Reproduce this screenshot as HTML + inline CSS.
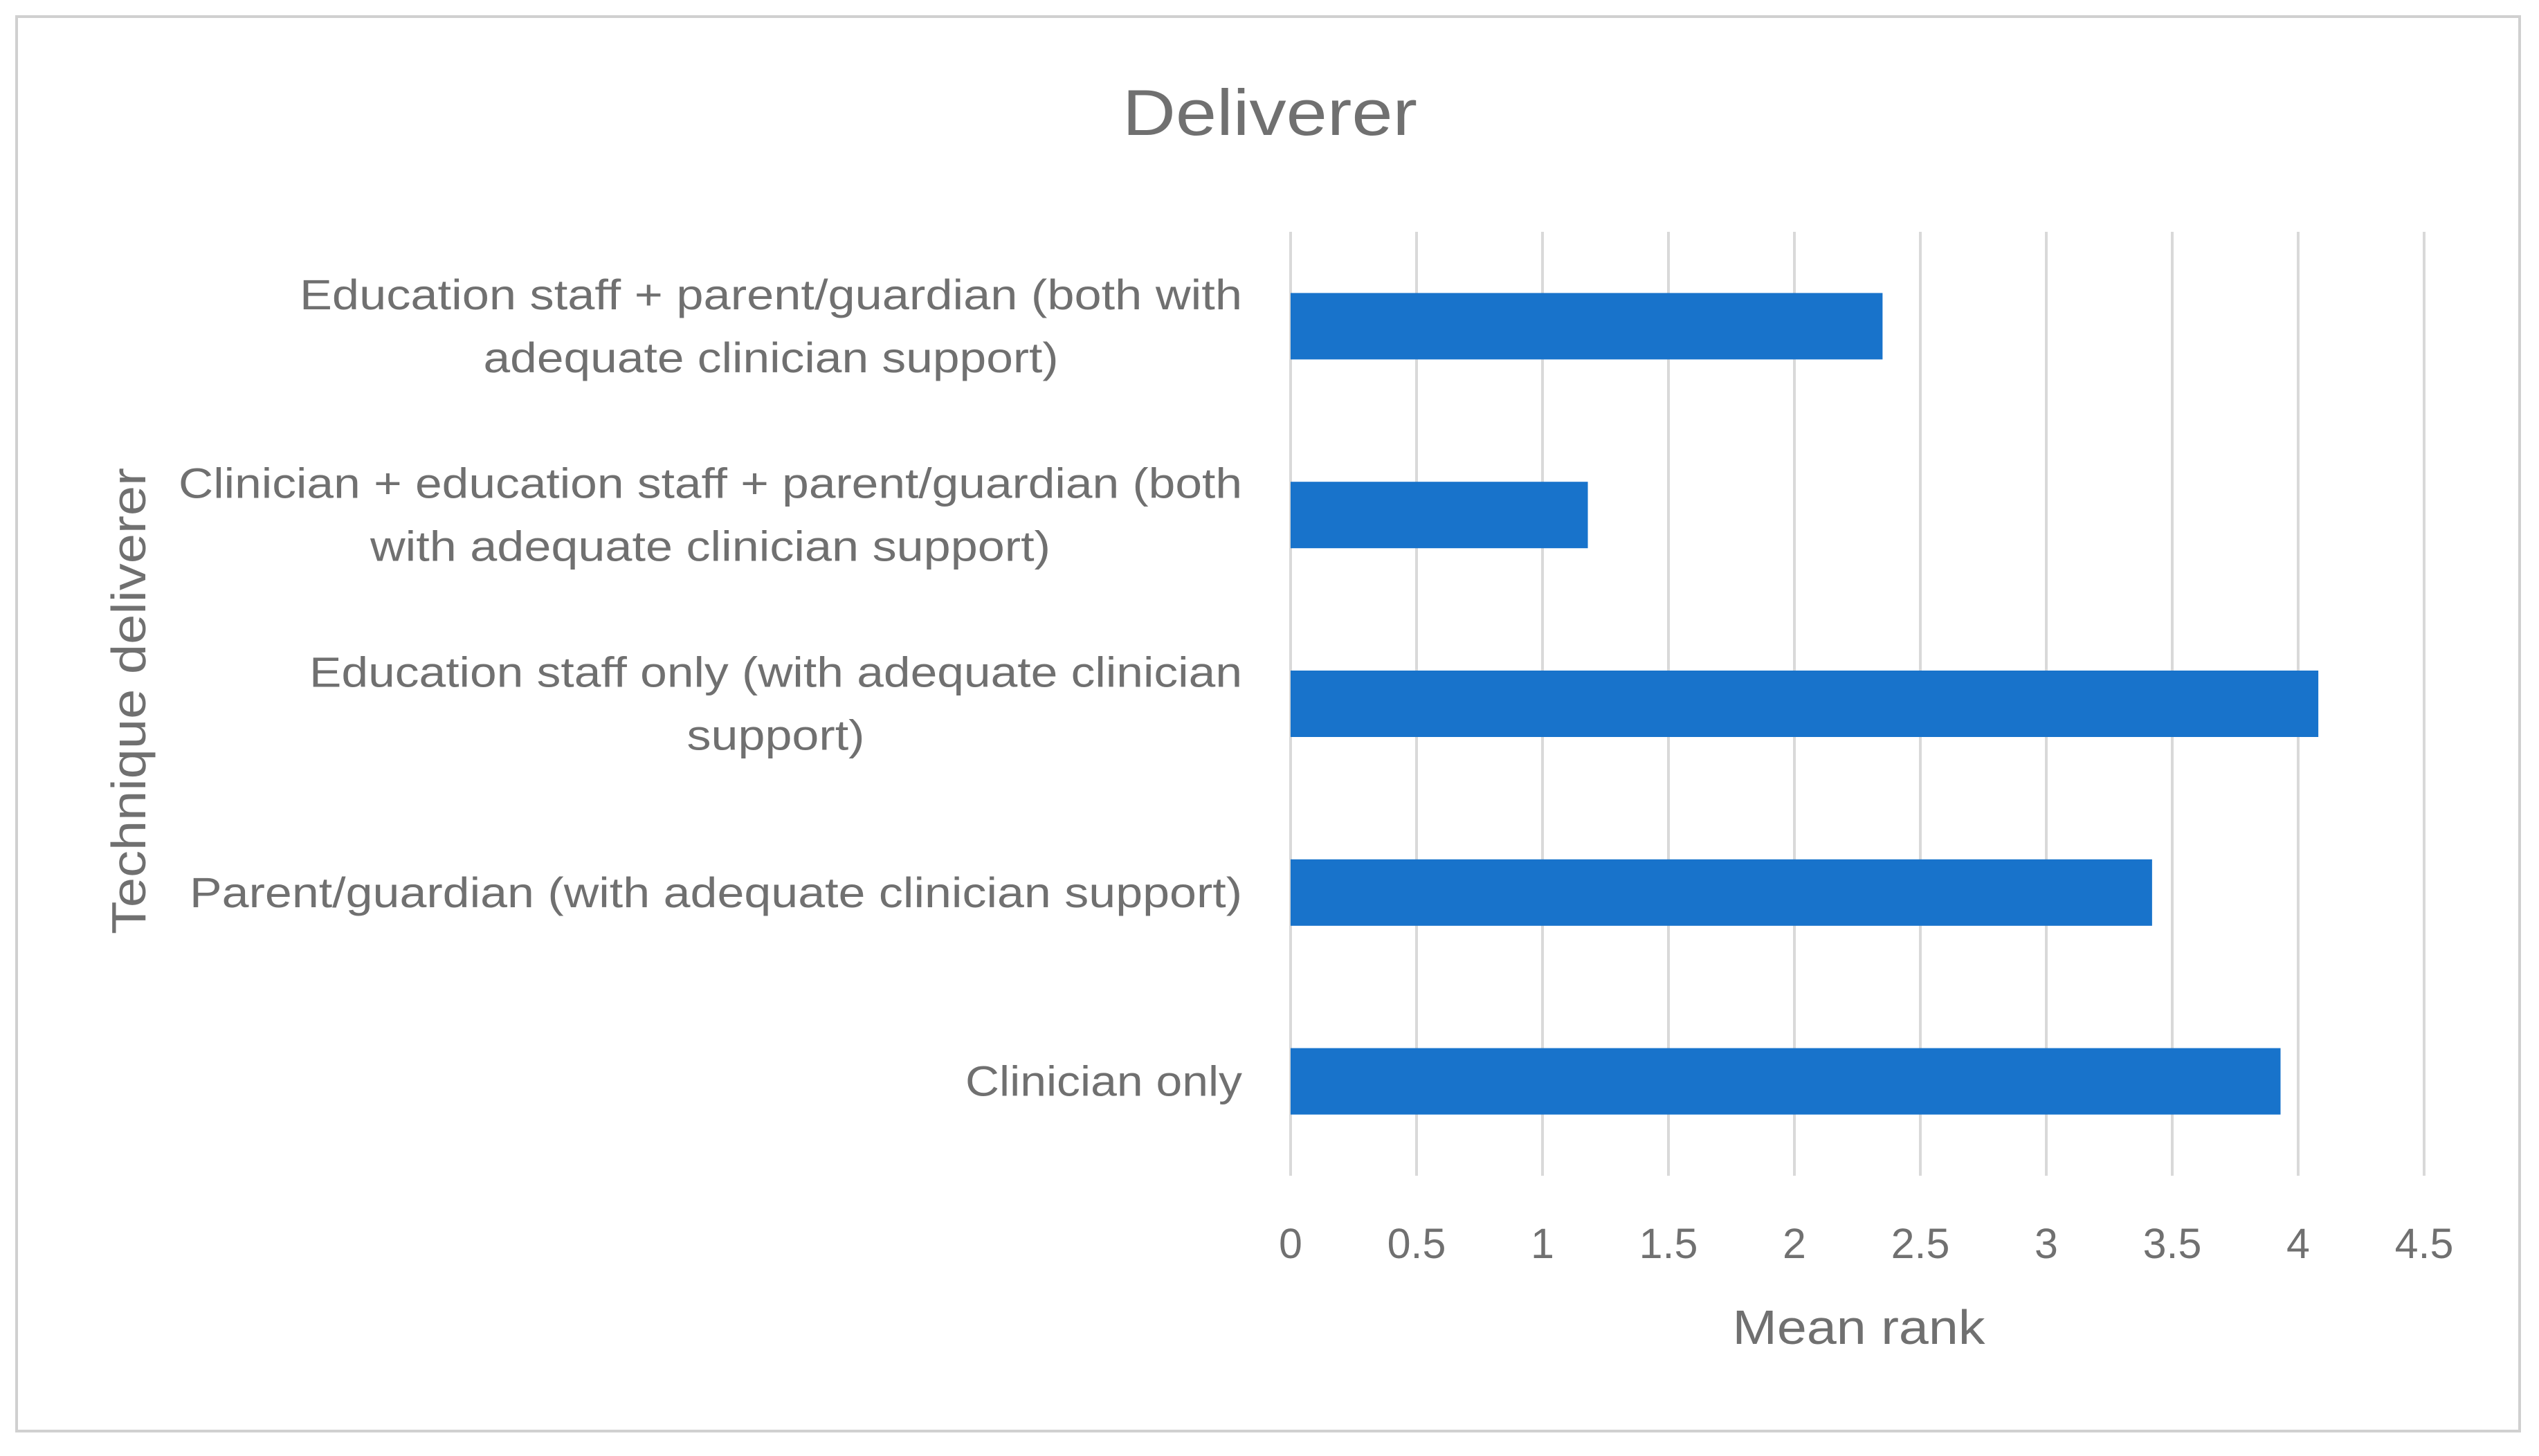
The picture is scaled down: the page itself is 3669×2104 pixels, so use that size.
<!DOCTYPE html>
<html><head><meta charset="utf-8"><style>
html,body{margin:0;padding:0;background:#fff;}
svg{display:block;font-family:"Liberation Sans",sans-serif;}
</style></head><body>
<svg id="chart" width="3669" height="2104" viewBox="0 0 3669 2104">
<rect x="24" y="24" width="3617" height="2044" fill="#fff" stroke="#d0d0d0" stroke-width="4"/>
<text x="1835" y="195" font-size="94" fill="#707070" text-anchor="middle" textLength="426" lengthAdjust="spacingAndGlyphs">Deliverer</text>
<text x="2686" y="1942" font-size="70" fill="#707070" text-anchor="middle" textLength="365" lengthAdjust="spacingAndGlyphs">Mean rank</text>
<text transform="translate(210,1013) rotate(-90)" font-size="70" fill="#707070" text-anchor="middle" textLength="674" lengthAdjust="spacingAndGlyphs">Technique deliverer</text>
<g id="grid"></g><g id="bars"></g><g id="xticks"></g><g id="cats"></g>
</svg>
<script>
const categories = [
  ["Education staff + parent/guardian (both with","adequate clinician support)"],
  ["Clinician + education staff + parent/guardian (both","with adequate clinician support)"],
  ["Education staff only (with adequate clinician","support)"],
  ["Parent/guardian (with adequate clinician support)"],
  ["Clinician only"]
];
const values = [2.35, 1.18, 4.08, 3.42, 3.93];
const tickValues = [0,0.5,1,1.5,2,2.5,3,3.5,4,4.5];
const tickLabels = ["0","0.5","1","1.5","2","2.5","3","3.5","4","4.5"];
// rendered widths of label lines (layout only)
const labelWidths = [[1362,831],[1537,983],[1348,257],[1521],[400]];

const NS="http://www.w3.org/2000/svg";
const X0=1865, X1=3503, XMAX=4.5, PT=335, PB=1699;
const xs=v=>X0+(v/XMAX)*(X1-X0);
const band=(PB-PT)/categories.length;
const yc=i=>PT+band*(i+0.5);
function mk(tag,attrs,parent){const e=document.createElementNS(NS,tag);for(const k in attrs)e.setAttribute(k,attrs[k]);parent.appendChild(e);return e;}
const grid=document.getElementById('grid'),bars=document.getElementById('bars'),xt=document.getElementById('xticks'),cats=document.getElementById('cats');
tickValues.forEach((t,i)=>{
  const l=mk('line',{x1:xs(t),x2:xs(t),y1:PT,y2:PB,stroke:'#d9d9d9','stroke-width':4},grid);
  
  
  const tx=mk('text',{x:xs(t),y:1818,'font-size':61,fill:'#707070','text-anchor':'middle'},xt);
  tx.textContent=tickLabels[i];
  
  
});
values.forEach((v,i)=>{
  const r=mk('rect',{x:X0,y:yc(i)-48,width:xs(v)-X0,height:96,fill:'#1873cb'},bars);
  
  
});
categories.forEach((lines,i)=>{
  const lh=91, start=yc(i)-(lines.length-1)*lh/2+21;
  const w0=(labelWidths[i]||[])[0];
  lines.forEach((s,j)=>{
    const w=(labelWidths[i]||[])[j];
    let attrs={y:start+j*lh,'font-size':61,fill:'#707070'};
    if(j===0){attrs.x=1795;attrs['text-anchor']='end';}
    else{attrs.x=1795-(w0||0)/2;attrs['text-anchor']='middle';}
    if(w){attrs.textLength=w;attrs.lengthAdjust='spacingAndGlyphs';}
    const t=mk('text',attrs,cats);
    t.textContent=s;
    
    
  });
});
</script>
</body></html>
